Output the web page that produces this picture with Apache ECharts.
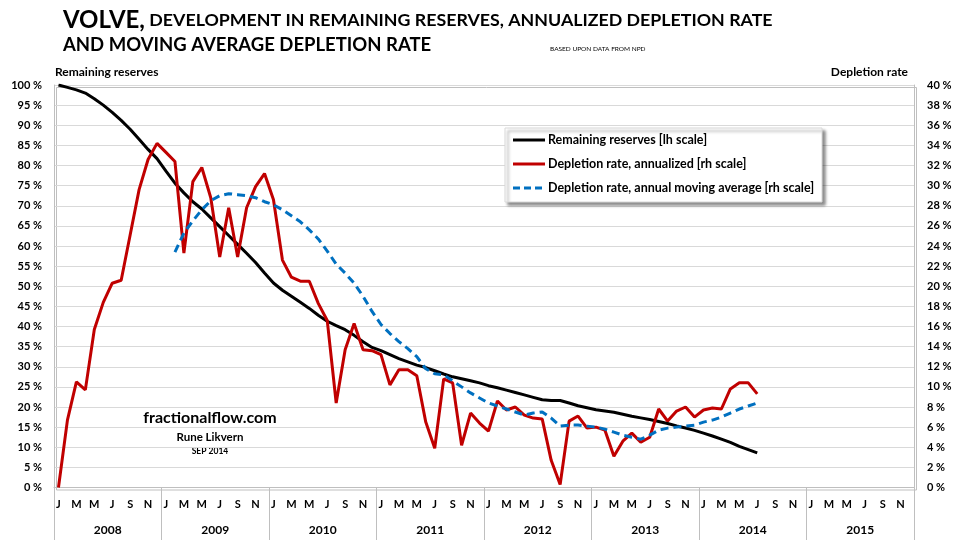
<!DOCTYPE html>
<html>
<head>
<meta charset="utf-8">
<script src="https://cdn.jsdelivr.net/npm/echarts@6/dist/echarts.min.js"></script>
<style>
html,body{margin:0;padding:0;background:#fff;}
#chart{width:960px;height:540px;}
</style>
</head>
<body>
<div id="chart"></div>
<script>
// ---- data ----
const monthLetters = ['J','F','M','A','M','J','J','A','S','O','N','D'];
const years = ['2008','2009','2010','2011','2012','2013','2014','2015'];
const months = [];
years.forEach(function(){ monthLetters.forEach(function(m){ months.push(m); }); });

const seriesNames = ['Remaining reserves [lh scale]', 'Depletion rate, annualized [rh scale]', 'Depletion rate, annual moving average [rh scale]'];

// Remaining reserves, % (left scale), Jan 2008 .. Jul 2014
const reserves = [100,99.4,98.8,98,96.6,95,93.2,91.2,89,86.5,84,81.7,
  78.6,75.6,73.2,71,69.2,67,64.8,62.6,60.4,58.2,55.9,53.3,
  50.8,49,47.5,46,44.5,42.8,41.3,40.2,39.2,37.8,36.2,34.8,
  34,33,32,31.2,30.4,29.8,29,28.2,27.5,27,26.5,26,
  25.3,24.8,24.2,23.6,23,22.4,21.8,21.6,21.6,21,20.3,19.8,
  19.3,19,18.7,18.2,17.7,17.3,16.9,16.4,15.9,15.3,14.8,14.2,
  13.5,12.8,12,11.2,10.2,9.4,8.6];

// Depletion rate, annualized, % (right scale)
const depletion = [0,6.7,10.5,9.7,15.7,18.4,20.3,20.6,25.1,29.6,32.6,34.2,
  33.3,32.4,23.3,30.4,31.8,28.8,22.9,27.8,22.9,27.8,29.9,31.2,
  28.6,22.6,20.9,20.5,20.5,18.3,16.6,8.4,13.7,16.3,13.7,13.6,
  13.2,10.2,11.7,11.7,11.1,6.5,3.9,10.8,10.4,4.2,7.4,6.4,
  5.6,8.6,7.7,8.0,7.2,6.9,6.8,2.7,0.3,6.6,7.1,5.9,
  6.0,5.7,3.1,4.6,5.4,4.5,5.0,7.8,6.6,7.6,8.0,7.0,
  7.7,7.9,7.8,9.8,10.4,10.4,9.3];

// Depletion rate, annual moving average, % (right scale)
const movingAvg = [null,null,null,null,null,null,null,null,null,null,null,null,
  null,23.4,25.3,26.5,27.6,28.5,29.0,29.2,29.1,29.0,28.8,28.4,
  28.1,27.6,27.0,26.4,25.6,24.7,23.5,22.2,21.3,20.3,19.0,17.5,
  16.2,15.3,14.5,13.8,13.0,11.8,11.3,11.2,10.6,10.0,9.4,8.9,
  8.4,8.1,7.8,7.5,7.2,7.4,7.5,6.9,6.1,6.2,6.2,6.1,
  6.0,5.8,5.5,5.2,5.0,4.8,5.2,5.7,5.9,6.0,6.1,6.2,
  6.5,6.7,7.0,7.4,7.8,8.1,8.4];

const FONT = 'Lato, "Open Sans", sans-serif';
const chart = echarts.init(document.getElementById('chart'));
const grey = '#BFBFBF';
const colors = ['#000000', '#C00000', '#0070C0'];

// hand-drawn legend box (graphic), positions only
const legendRows = [140, 164, 188];
const legendGraphics = [
  { type: 'rect', shape: { x: 505, y: 128, width: 317, height: 74 },
    style: { fill: '#ffffff', stroke: '#D9D9D9', lineWidth: 1, shadowColor: 'rgba(0,0,0,0.45)', shadowBlur: 3, shadowOffsetX: 3, shadowOffsetY: 3 }, z: 10 }
];
seriesNames.forEach(function(n, k){
  legendGraphics.push({ type: 'line', shape: { x1: 513, y1: legendRows[k], x2: 545, y2: legendRows[k] },
    style: { stroke: colors[k], lineWidth: 3, lineDash: k === 2 ? [7, 4] : null }, z: 11 });
  legendGraphics.push({ type: 'text', x: 548, y: legendRows[k],
    style: { text: n, fontFamily: FONT, fontSize: 12.5, fontWeight: 'bold', fill: '#000', verticalAlign: 'middle' }, z: 11 });
});

chart.setOption({
  animation: false,
  backgroundColor: '#ffffff',
  textStyle: { fontFamily: FONT },
  grid: { left: 54, right: 46, top: 85, bottom: 52.5, containLabel: false },
  xAxis: [
    {
      type: 'category', data: months, boundaryGap: true, position: 'bottom',
      axisLine: { show: true, lineStyle: { color: grey, width: 1 } },
      axisTick: { show: false },
      axisLabel: { interval: 1, margin: 11, fontFamily: FONT, fontSize: 11, fontWeight: 'bold', color: '#000' },
      splitLine: { show: false }
    },
    {
      type: 'category', data: years, boundaryGap: true, position: 'bottom',
      axisLine: { show: false },
      axisTick: { show: true, length: 54, inside: false, lineStyle: { color: grey, width: 1 } },
      axisLabel: { interval: 0, margin: 37, fontFamily: FONT, fontSize: 12, fontWeight: 'bold', color: '#000' },
      splitLine: { show: false }
    }
  ],
  yAxis: [
    {
      type: 'value', min: 0, max: 100, interval: 5, position: 'left',
      axisLine: { show: true, lineStyle: { color: grey } },
      axisTick: { show: false },
      axisLabel: { formatter: '{value} %', margin: 12, fontFamily: FONT, fontSize: 11, fontWeight: 'bold', color: '#000' },
      splitLine: { show: true, lineStyle: { color: '#D9D9D9', width: 1 } }
    },
    {
      type: 'value', min: 0, max: 40, interval: 2, position: 'right',
      axisLine: { show: true, lineStyle: { color: grey } },
      axisTick: { show: false },
      axisLabel: { formatter: '{value} %', margin: 13, fontFamily: FONT, fontSize: 11, fontWeight: 'bold', color: '#000' },
      splitLine: { show: false }
    }
  ],
  series: [
    {
      name: seriesNames[0], type: 'line', xAxisIndex: 0, yAxisIndex: 0,
      data: reserves, symbol: 'none', smooth: false,
      lineStyle: { color: colors[0], width: 3 }, itemStyle: { color: colors[0] }, z: 3
    },
    {
      name: seriesNames[1], type: 'line', xAxisIndex: 0, yAxisIndex: 1,
      data: depletion, symbol: 'none',
      lineStyle: { color: colors[1], width: 3 }, itemStyle: { color: colors[1] }, z: 4
    },
    {
      name: seriesNames[2], type: 'line', xAxisIndex: 0, yAxisIndex: 1,
      data: movingAvg, symbol: 'none', connectNulls: false,
      lineStyle: { color: colors[2], width: 3, type: [8, 5] }, itemStyle: { color: colors[2] }, z: 5
    }
  ],
  graphic: [
    { type: 'rect', left: 54, top: 85, shape: { width: 860, height: 402.5 }, style: { fill: 'none', stroke: grey, lineWidth: 1 }, silent: true, z: 0 },
    {
      type: 'text', left: 63, top: 8,
      style: {
        text: '{a|VOLVE,}{b| DEVELOPMENT IN REMAINING RESERVES, ANNUALIZED DEPLETION RATE}',
        rich: {
          a: { fontFamily: FONT, fontSize: 24, fontWeight: 'bold', fill: '#000' },
          b: { fontFamily: FONT, fontSize: 17.8, fontWeight: 'bold', fill: '#000' }
        }
      }
    },
    { type: 'text', left: 63, top: 36, style: { text: 'AND MOVING AVERAGE DEPLETION RATE', fontFamily: FONT, fontSize: 18.5, fontWeight: 'bold', fill: '#000' } },
    { type: 'text', left: 550, top: 45, style: { text: 'BASED UPON DATA FROM NPD', fontFamily: FONT, fontSize: 6.5, fill: '#000' } },
    { type: 'text', left: 55, top: 66, style: { text: 'Remaining reserves', fontFamily: FONT, fontSize: 12, fontWeight: 'bold', fill: '#000' } },
    { type: 'text', right: 52, top: 66, style: { text: 'Depletion rate', fontFamily: FONT, fontSize: 12, fontWeight: 'bold', fill: '#000' } },
    { type: 'text', x: 210, y: 418, style: { text: 'fractionalflow.com', fontFamily: FONT, fontSize: 16, fontWeight: 'bold', fill: '#000', align: 'center', verticalAlign: 'middle' } },
    { type: 'text', x: 210, y: 437, style: { text: 'Rune Likvern', fontFamily: FONT, fontSize: 11.5, fontWeight: 'bold', fill: '#000', align: 'center', verticalAlign: 'middle' } },
    { type: 'text', x: 210, y: 451, style: { text: 'SEP 2014', fontFamily: FONT, fontSize: 8.5, fontWeight: 'bold', fill: '#000', align: 'center', verticalAlign: 'middle' } }
  ].concat(legendGraphics)
});
</script>
</body>
</html>
